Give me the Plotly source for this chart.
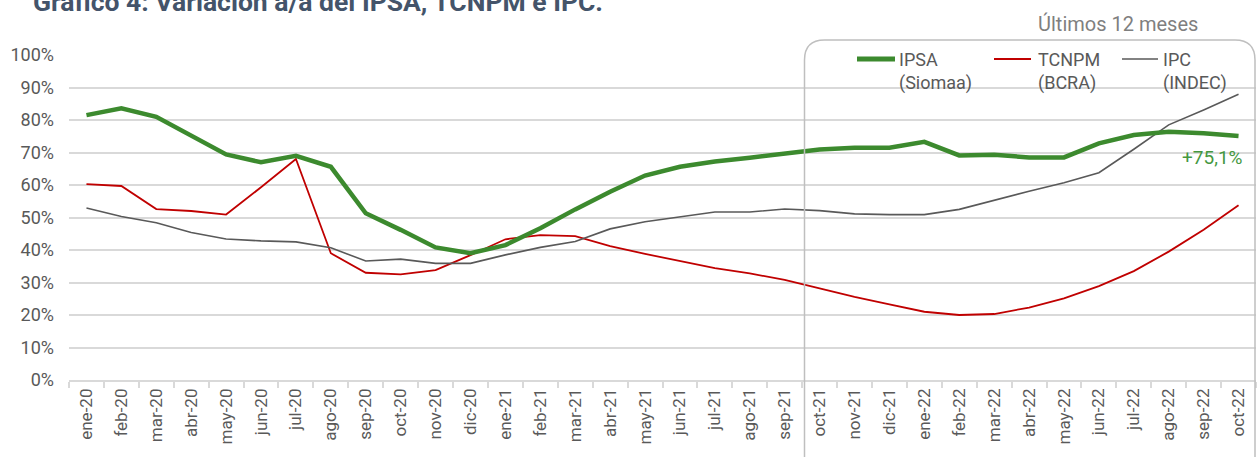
import plotly.graph_objects as go

months = ["ene-20","feb-20","mar-20","abr-20","may-20","jun-20","jul-20","ago-20","sep-20","oct-20","nov-20","dic-20",
          "ene-21","feb-21","mar-21","abr-21","may-21","jun-21","jul-21","ago-21","sep-21","oct-21","nov-21","dic-21",
          "ene-22","feb-22","mar-22","abr-22","may-22","jun-22","jul-22","ago-22","sep-22","oct-22"]

ipsa = [81.5, 83.6, 81.0, 75.3, 69.4, 67.0, 69.0, 65.6, 51.3, 46.2, 40.8, 39.0,
        41.5, 46.7, 52.5, 57.9, 62.9, 65.6, 67.2, 68.4, 69.7, 70.9, 71.5, 71.5,
        73.3, 69.1, 69.3, 68.5, 68.5, 72.8, 75.4, 76.4, 75.9, 75.1]

tcnpm = [60.3, 59.7, 52.6, 52.0, 50.9, 59.3, 68.0, 39.0, 33.0, 32.5, 33.8, 38.4,
         43.3, 44.6, 44.3, 41.2, 38.8, 36.6, 34.4, 32.8, 30.8, 28.2, 25.6, 23.3,
         21.0, 20.0, 20.3, 22.3, 25.1, 28.9, 33.5, 39.5, 46.2, 53.8]

ipc = [52.9, 50.3, 48.4, 45.4, 43.4, 42.8, 42.5, 40.7, 36.6, 37.2, 35.9, 35.9,
       38.5, 40.8, 42.6, 46.5, 48.7, 50.3, 51.7, 51.7, 52.6, 52.1, 51.1, 50.9,
       50.9, 52.5, 55.4, 58.1, 60.7, 63.8, 71.0, 78.5, 83.1, 87.9]

yticks = [0, 10, 20, 30, 40, 50, 60, 70, 80, 90, 100]

W, H = 1257, 457
L, R, T, B = 69, 1, 55, 77
PW = W - L - R
PH = H - T - B

def px(x):
    return (x - L) / PW

def py(y):
    return (H - B - y) / PH

GREEN = "#3c8a2e"
RED = "#c00000"
GRAY = "#595959"
TXT = "#595959"
FONT = "Roboto"

fig = go.Figure()
fig.add_trace(go.Scatter(x=months, y=tcnpm, mode="lines", name="TCNPM (BCRA)",
                         line=dict(color=RED, width=1.8)))
fig.add_trace(go.Scatter(x=months, y=ipc, mode="lines", name="IPC (INDEC)",
                         line=dict(color=GRAY, width=1.6)))
fig.add_trace(go.Scatter(x=months, y=ipsa, mode="lines", name="IPSA (Siomaa)",
                         line=dict(color=GREEN, width=4.5)))

shapes = []
# rounded "last 12 months" box
bl, br, bt, bb, r = 804.5, 1255, 40, 490, 20
path = (f"M {px(bl)},{py(bb)} L {px(bl)},{py(bt + r)} "
        f"Q {px(bl)},{py(bt)} {px(bl + r)},{py(bt)} "
        f"L {px(br - r)},{py(bt)} "
        f"Q {px(br)},{py(bt)} {px(br)},{py(bt + r)} "
        f"L {px(br)},{py(bb)}")
shapes.append(dict(type="path", path=path, xref="paper", yref="paper",
                   line=dict(color="#bfbfbf", width=1.5), layer="above"))

# manual legend keys
leg = [(857, 895, GREEN, 5, "IPSA", "(Siomaa)", 897),
       (994, 1031, RED, 2, "TCNPM", "(BCRA)", 1036),
       (1122, 1158, GRAY, 1.6, "IPC", "(INDEC)", 1161)]
annotations = []
for x0, x1, c, w, t1, t2, tx in leg:
    shapes.append(dict(type="line", xref="paper", yref="paper",
                       x0=px(x0), x1=px(x1), y0=py(59), y1=py(59),
                       line=dict(color=c, width=w)))
    annotations.append(dict(text=t1, x=px(tx), y=py(59), xref="paper", yref="paper",
                            xanchor="left", yanchor="middle", showarrow=False,
                            font=dict(family=FONT, size=18, color=TXT)))
    annotations.append(dict(text=t2, x=px(tx), y=py(83), xref="paper", yref="paper",
                            xanchor="left", yanchor="middle", showarrow=False,
                            font=dict(family=FONT, size=18, color=TXT)))

annotations.append(dict(text="Últimos 12 meses", x=px(1118), y=py(24), xref="paper", yref="paper",
                        xanchor="center", yanchor="middle", showarrow=False,
                        font=dict(family=FONT, size=20, color="#7f7f7f")))
annotations.append(dict(text="+75,1%", x=px(1245), y=py(157), xref="paper", yref="paper",
                        xanchor="right", yanchor="middle", showarrow=False,
                        font=dict(family=FONT, size=19, color="#45983f")))
annotations.append(dict(text="<b>Gráfico 4: Variación a/a del IPSA, TCNPM e IPC.</b>",
                        x=px(31), y=py(1), xref="paper", yref="paper",
                        xanchor="left", yanchor="middle", showarrow=False,
                        font=dict(family=FONT, size=26.5, color="#44546a")))

fig.update_layout(
    width=W, height=H, autosize=False,
    margin=dict(l=L, r=R, t=T, b=B, pad=0),
    paper_bgcolor="white", plot_bgcolor="white",
    showlegend=False, hovermode=False,
    font=dict(family=FONT, color=TXT),
    shapes=shapes, annotations=annotations,
    xaxis=dict(type="category", categoryorder="array", categoryarray=months,
               range=[-0.5, len(months) - 0.5],
               tickangle=-90, tickson="boundaries", ticks="outside", ticklen=6,
               tickcolor="#d9d9d9", tickwidth=1.5, showline=True, linecolor="#d9d9d9",
               linewidth=1.5, showgrid=False, tickfont=dict(family=FONT, size=17, color=TXT)),
    yaxis=dict(range=[0, 100], tickvals=yticks, ticktext=[f"{v}%" for v in yticks],
               showgrid=True, gridcolor="#d9d9d9", gridwidth=1.5, zeroline=False,
               showline=False, ticks="", ticklabelstandoff=14,
               tickfont=dict(family=FONT, size=18, color=TXT)),
)

fig.write_html("out.html", config={"displayModeBar": False},
               post_script="document.body.style.margin='0px';document.body.style.overflow='hidden';")
